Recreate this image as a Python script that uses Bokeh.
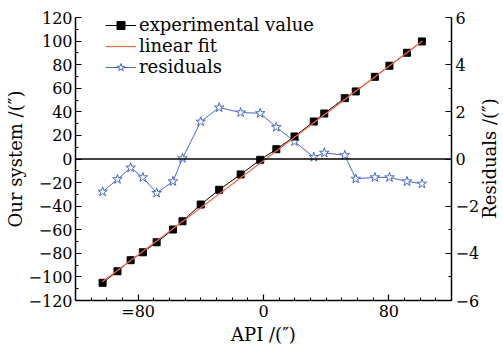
from bokeh.plotting import figure
from bokeh.models import Range1d, LinearAxis, FixedTicker, Span, Legend, LegendItem, Label
from bokeh.embed import file_html
from bokeh.resources import INLINE

# ---- data ----
api_x = [-102.7, -93.2, -84.8, -77.0, -68.2, -57.8, -51.7, -40.1, -28.3, -14.6, -2.1,
         8.2, 19.8, 32.1, 38.8, 51.9, 58.9, 71.1, 80.4, 91.6, 101.1]
system_y = [-105.0, -95.2, -85.8, -79.1, -70.6, -59.8, -52.8, -38.6, -26.1, -13.1, -0.7,
            8.3, 19.1, 31.8, 38.6, 51.6, 57.3, 69.7, 79.1, 90.1, 99.7]
residuals = [-1.39, -0.86, -0.37, -0.78, -1.44, -0.95, 0.03, 1.58, 2.18, 1.97, 1.94,
             1.35, 0.74, 0.08, 0.26, 0.16, -0.84, -0.78, -0.78, -0.95, -1.05]
fit_x = [-103.0, 101.5]
fit_y = [-104.3, 100.0]

x_major = [-80, 0, 80]
x_labels = ["=80", "0", "80"]
x_minor = [-110, -100, -90, -70, -60, -50, -40, -30, -20, -10,
           10, 20, 30, 40, 50, 60, 70, 90, 100, 110]
y_major = [-120, -100, -80, -60, -40, -20, 0, 20, 40, 60, 80, 100, 120]
y_labels = ["\u2212120", "\u2212100", "\u221280", "\u221260", "\u221240", "\u221220", "0",
            "20", "40", "60", "80", "100", "120"]
y_minor = [-110, -90, -70, -50, -30, -10, 10, 30, 50, 70, 90, 110]
r_major = [-6, -4, -2, 0, 2, 4, 6]
r_labels = ["\u22126", "\u22124", "\u22122", "0", "2", "4", "6"]
r_minor = [-5, -3, -1, 1, 3, 5]

FONT = "DejaVu Serif"
BLUE = "#4a68cc"
RED = "#f06a4a"

p = figure(width=503, height=348, output_backend="svg", toolbar_location=None,
           x_range=Range1d(-120, 120), y_range=Range1d(-120, 120),
           min_border_left=75, min_border_right=50, min_border_top=17, min_border_bottom=48)
p.outline_line_color = None
p.xgrid.visible = False
p.ygrid.visible = False
p.background_fill_color = "white"
p.border_fill_color = "white"

p.extra_y_ranges = {"res": Range1d(-6, 6)}


def style_axis(ax, major, labels, minor, label):
    ax.ticker = FixedTicker(ticks=major, minor_ticks=minor)
    ax.major_label_overrides = {m: l for m, l in zip(major, labels)}
    ax.major_tick_in = 6
    ax.major_tick_out = 0
    ax.minor_tick_in = 3
    ax.minor_tick_out = 0
    ax.axis_line_width = 1.5
    ax.major_tick_line_width = 1.2
    ax.minor_tick_line_width = 1.0
    ax.axis_line_color = "black"
    ax.major_tick_line_color = "black"
    ax.minor_tick_line_color = "black"
    ax.major_label_text_font = FONT
    ax.major_label_text_font_size = "16px"
    ax.major_label_text_color = "black"
    ax.axis_label = label
    ax.axis_label_text_font = FONT
    ax.axis_label_text_font_size = "18px"
    ax.axis_label_text_font_style = "normal"
    ax.axis_label_text_color = "black"
    ax.axis_label_standoff = 0
    ax.major_label_standoff = 3


style_axis(p.xaxis[0], x_major, x_labels, x_minor, "API /(\u2033)")
p.xaxis[0].major_label_standoff = 1
style_axis(p.yaxis[0], y_major, y_labels, y_minor, "Our system /(\u2033)")

raxis = LinearAxis(y_range_name="res")
style_axis(raxis, r_major, r_labels, r_minor, None)
raxis.major_label_standoff = 4
p.add_layout(raxis, "right")

# right-hand axis title, in its own side panel beyond the right axis
p.add_layout(Label(x=7, y=142, x_units="screen", y_units="screen",
                   text="Residuals /(\u2033)", angle=1.5707963,
                   text_align="center", text_baseline="middle",
                   text_font=FONT, text_font_size="18px", text_color="black"), "right")

p.add_layout(Span(location=0, dimension="width", line_color="black", line_width=1.5))

# residuals
r_line = p.line(api_x, residuals, y_range_name="res", line_color=BLUE, line_width=1)
r_pts = p.scatter(api_x, residuals, y_range_name="res", marker="star", size=10,
                  line_color=BLUE, fill_color="white", line_width=1)

# experimental
e_line = p.line(api_x, system_y, line_color="black", line_width=1)
e_pts = p.scatter(api_x, system_y, marker="square", size=7, line_color="black",
                  fill_color="black")

# linear fit
f_line = p.line(fit_x, fit_y, line_color=RED, line_width=1.2)

legend = Legend(items=[
    LegendItem(label="experimental value", renderers=[e_line, e_pts]),
    LegendItem(label="linear fit", renderers=[f_line]),
    LegendItem(label="residuals", renderers=[r_line, r_pts]),
], location=(30, 223))
legend.border_line_color = None
legend.background_fill_alpha = 0
legend.padding = 0
legend.margin = 0
legend.spacing = 0
legend.glyph_width = 31
legend.glyph_height = 20
legend.label_height = 20
legend.label_standoff = 3
legend.label_text_font = FONT
legend.label_text_font_size = "18px"
legend.label_text_color = "black"
p.add_layout(legend, "center")

open("out.html", "w").write(file_html(p, INLINE))
